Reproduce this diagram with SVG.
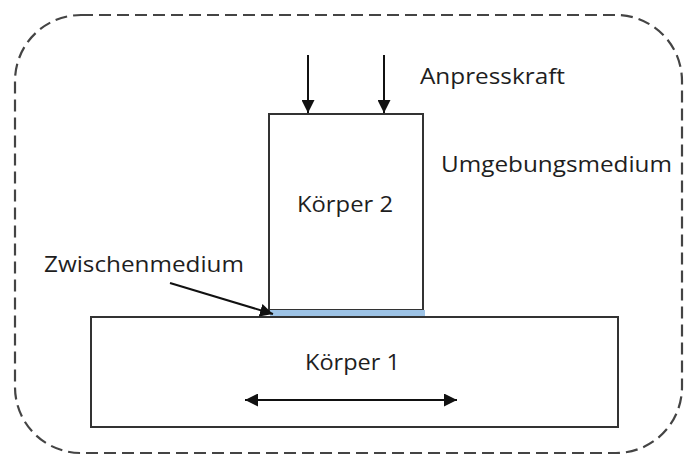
<svg xmlns="http://www.w3.org/2000/svg" width="696" height="458" viewBox="0 0 696 458">
  <defs>
    <marker id="tri" viewBox="0 0 10 10" refX="10" refY="5" markerWidth="6.5" markerHeight="6.5" markerUnits="strokeWidth" orient="auto-start-reverse">
      <path d="M0,0 L10,5 L0,10 Z" fill="#111"/>
    </marker>
    <style>
      .box { fill: #fff; stroke: #333; stroke-width: 2; }
      .env { fill: none; stroke: #444; stroke-width: 2.2; stroke-dasharray: 12 6; }
      .arr { fill: none; stroke: #111; stroke-width: 2; }
      text { font-family: "Open Sans", "Liberation Sans", sans-serif; font-size: 21px; fill: #1e1e1e; }
    </style>
  </defs>

  <rect width="696" height="458" fill="#fff"/>

  <!-- surrounding medium -->
  <g id="umgebung">
    <rect class="env" x="15" y="15" width="667" height="438" rx="66" ry="66"/>
    <text x="441" y="172" textLength="231" lengthAdjust="spacingAndGlyphs">Umgebungsmedium</text>
  </g>

  <!-- lower body -->
  <g id="koerper1">
    <rect class="box" x="91" y="317" width="527" height="110"/>
    <text x="305" y="370" textLength="95" lengthAdjust="spacingAndGlyphs">Körper 1</text>
  </g>

  <!-- upper body -->
  <g id="koerper2">
    <rect class="box" x="269" y="114" width="154" height="196"/>
    <text x="297" y="212" textLength="96" lengthAdjust="spacingAndGlyphs">Körper 2</text>
  </g>

  <!-- interface layer -->
  <g id="zwischenmedium">
    <rect x="270" y="310" width="155" height="6" fill="#9dc3e6"/>
    <text x="44" y="272" textLength="200" lengthAdjust="spacingAndGlyphs">Zwischenmedium</text>
  </g>

  <g id="anpresskraft">
    <text x="420" y="84" textLength="145" lengthAdjust="spacingAndGlyphs">Anpresskraft</text>
  </g>

  <!-- connectors -->
  <g id="connectors">
    <line class="arr" x1="308" y1="55" x2="308" y2="113" marker-end="url(#tri)"/>
    <line class="arr" x1="384" y1="55" x2="384" y2="113" marker-end="url(#tri)"/>
    <line class="arr" x1="245" y1="400" x2="457" y2="400" marker-start="url(#tri)" marker-end="url(#tri)"/>
    <line class="arr" x1="170" y1="283" x2="273" y2="314" marker-end="url(#tri)"/>
  </g>
</svg>
